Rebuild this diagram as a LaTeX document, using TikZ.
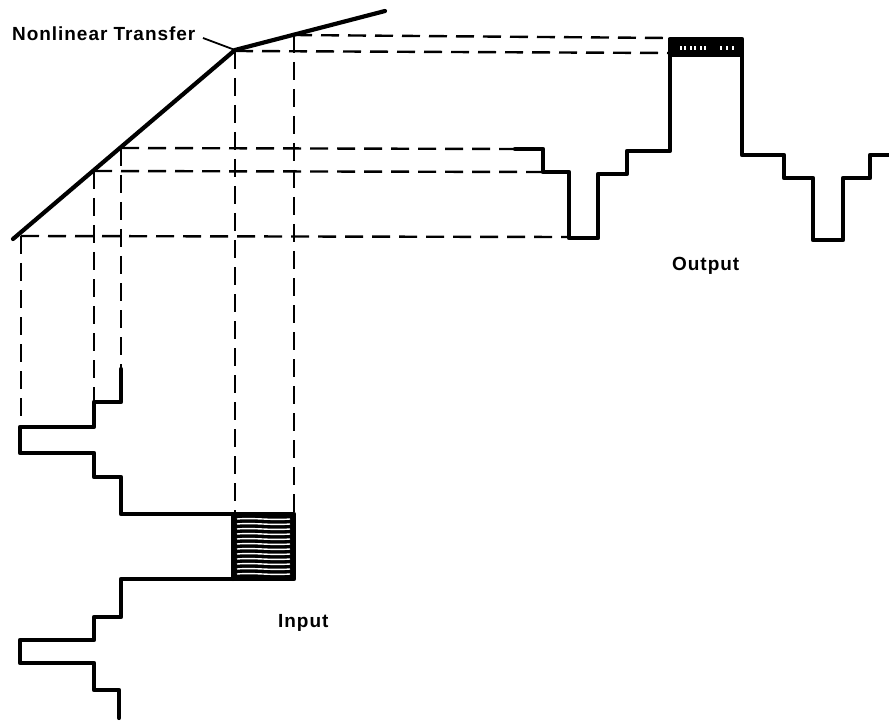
\documentclass[tikz,border=0pt]{standalone}
\usepackage{fontspec}
\setmainfont{Liberation Sans}
\begin{document}
\begin{tikzpicture}[x=1pt,y=-1pt,
  thickline/.style={line width=4.2pt,line join=round,line cap=round},
  dashline/.style={line width=2.4pt,dash pattern=on 18pt off 9pt},
  leader/.style={line width=1.8pt},
  lbl/.style={inner sep=0pt,font=\fontsize{19}{21}\selectfont\bfseries\addfontfeatures{LetterSpace=5}}]
\useasboundingbox (0,0) rectangle (889,722);
% transfer curve
\coordinate (T0) at (13,239);
\coordinate (K) at (235,50);
\coordinate (T1) at (385,11);
\coordinate (P1) at (21,236);
\coordinate (P2) at (94,171);
\coordinate (P3) at (121,148);
\coordinate (P5) at (294,35);
\coordinate (K2) at (235,51);
% output ends
\coordinate (O1) at (569,237);
\coordinate (O2) at (543,172);
\coordinate (O3) at (515,149);
\coordinate (O4) at (668,53);
\coordinate (O5) at (668,38);
% input ends
\coordinate (I1) at (21,427);
\coordinate (I2) at (94,402);
\coordinate (I3) at (121,369);
\coordinate (I4) at (235,514);
\coordinate (I5) at (294,514);
% dashed projections
\draw[dashline] (P1) -- (O1);
\draw[dashline] (P2) -- (O2);
\draw[dashline] (P3) -- (O3);
\draw[dashline] (K2) -- (O4);
\draw[dashline] (P5) -- (O5);
\draw[dashline] (P1) -- (I1);
\draw[dashline] (P2) -- (I2);
\draw[dashline] (P3) -- (I3);
\draw[dashline] (K2) -- (I4);
\draw[dashline] (P5) -- (I5);
% curve
\draw[thickline] (T0) -- (K) -- (T1);
% label
\node[lbl,anchor=base west] (nl) at (12,41) {Nonlinear Transfer};
\draw[leader] (203,38) -- (K);
% output waveform
\fill[black] (668,38) rectangle (743,57);
\foreach \xx in {680,684,690,694,700,704,720,726,732}
  \fill[white] (\xx,46) rectangle ++(1.6,4);
\draw[thickline] (O3) -- (543,149) -- (543,172) -- (569,172) -- (569,238) -- (598,238)
  -- (598,174) -- (627,174) -- (627,151) -- (670,151) -- (670,39) -- (742,39)
  -- (742,155) -- (784,155) -- (784,178) -- (813,178) -- (813,240) -- (843,240)
  -- (843,178) -- (870,178) -- (870,155) -- (889,155);
\node[lbl,anchor=base west] (out) at (672,270) {Output};
% input waveform
\fill[black] (233,514) rectangle (294,579);
\foreach \yy in {519,524,529,534,539,544,549,554,559,564,569,574}
  \draw[white,line width=1.4pt] (237,\yy) .. controls (255,\yy-1.5) and (270,\yy+1.5) .. (290,\yy);
\draw[thickline] (I3) -- (121,402) -- (94,402) -- (94,427) -- (20,427) -- (20,453)
  -- (94,453) -- (94,477) -- (121,477) -- (121,514) -- (294,514) -- (294,579)
  -- (121,579) -- (121,617) -- (94,617) -- (94,640) -- (20,640) -- (20,663)
  -- (94,663) -- (94,690) -- (119,690) -- (119,718);
\draw[thickline] (233,514) -- (233,579);
\node[lbl,anchor=base west] (in) at (278,627) {Input};
\end{tikzpicture}
\end{document}
